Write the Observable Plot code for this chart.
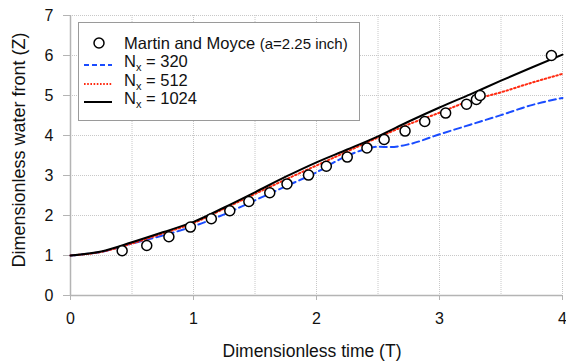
<!DOCTYPE html>
<html>
<head>
<meta charset="utf-8">
<script src="https://cdn.jsdelivr.net/npm/d3@7"></script>
<script src="https://cdn.jsdelivr.net/npm/@observablehq/plot@0.6"></script>
<style>
  html, body { margin: 0; padding: 0; background: #fff; }
  #wrap { position: relative; width: 566px; height: 363px; font-family: "Liberation Sans", Arial, sans-serif; }
  #legend { position: absolute; left: 78px; top: 22px; width: 282px; height: 99px; box-sizing: border-box;
            border: 1px solid #9a9a9a; background: #fff; font-size: 16.5px; color: #111; }
  .row { position: absolute; left: 0; height: 20px; display: flex; align-items: center; white-space: nowrap; }
  .row svg { margin-left: 5px; margin-right: 12px; }
  .small { font-size: 15px; }
</style>
</head>
<body>
<div id="wrap"></div>
<script>
// Martin and Moyce experimental data
const expT = [0.42, 0.62, 0.80, 0.975, 1.145, 1.295, 1.45, 1.62, 1.76, 1.935, 2.08, 2.25, 2.41, 2.55, 2.72, 2.88, 3.05, 3.22, 3.30, 3.33, 3.91];
const expZ = [1.12, 1.25, 1.47, 1.71, 1.92, 2.12, 2.35, 2.57, 2.79, 3.01, 3.23, 3.46, 3.69, 3.90, 4.11, 4.35, 4.56, 4.78, 4.90, 5.00, 6.00];

// Nx = 320 (blue dashed)
const t320 = [0, 0.25, 0.5, 0.75, 1.0, 1.25, 1.5, 1.75, 2.0, 2.2, 2.4, 2.5, 2.6, 2.75, 3.0, 3.25, 3.5, 3.75, 4.0];
const z320 = [1, 1.09, 1.3, 1.5, 1.73, 2.03, 2.38, 2.73, 3.08, 3.42, 3.66, 3.72, 3.71, 3.78, 4.03, 4.27, 4.51, 4.76, 4.94];

// Nx = 512 (red dotted)
const t512 = [0, 0.25, 0.5, 0.75, 1.0, 1.25, 1.5, 1.75, 2.0, 2.25, 2.5, 2.75, 3.0, 3.25, 3.5, 3.75, 4.0];
const z512 = [1, 1.09, 1.3, 1.55, 1.81, 2.17, 2.54, 2.9, 3.25, 3.6, 3.95, 4.28, 4.57, 4.87, 5.08, 5.32, 5.54];

// Nx = 1024 (black solid)
const t1024 = [0, 0.25, 0.5, 0.75, 1.0, 1.25, 1.5, 1.75, 2.0, 2.25, 2.5, 2.75, 3.0, 3.25, 3.5, 3.75, 4.0];
const z1024 = [1, 1.1, 1.33, 1.58, 1.84, 2.2, 2.58, 2.97, 3.33, 3.65, 3.98, 4.35, 4.7, 5.03, 5.37, 5.7, 6.02];

const xTicks = [0, 1, 2, 3, 4];
const xGrid = [0.5, 1, 1.5, 2, 2.5, 3, 3.5, 4];
const yTicks = [0, 1, 2, 3, 4, 5, 6, 7];
const yGrid = [1, 2, 3, 4, 5, 6, 7];

const series = [
  {t: t320, z: z320, stroke: "#1a4cff", dash: "7,4"},
  {t: t512, z: z512, stroke: "#ff2a10", dash: "1.6,2.4"},
  {t: t1024, z: z1024, stroke: "#000000", dash: null}
];
const exp = expT.map((t, i) => ({t, z: expZ[i]}));

const marks = [
  Plot.gridX(xGrid, {stroke: "#c8c8c8", strokeOpacity: 1, strokeDasharray: "1,1"}),
  Plot.gridY(yGrid, {stroke: "#c8c8c8", strokeOpacity: 1, strokeDasharray: "1,1"}),
  Plot.ruleX([0], {stroke: "#b4b4b4", strokeWidth: 1.5}),
  Plot.ruleY([0], {stroke: "#b4b4b4", strokeWidth: 1.5}),
  Plot.axisX(xTicks, {tickSize: 5, stroke: "#b4b4b4", tickPadding: 12, fontSize: 16, label: null, color: "#111", tickFormat: "d"}),
  Plot.axisY(yTicks, {tickSize: 7, stroke: "#b4b4b4", tickPadding: 10, fontSize: 16, label: null, color: "#111", tickFormat: "d"}),
];
for (const s of series) {
  const d = s.t.map((t, i) => ({t, z: s.z[i]}));
  marks.push(Plot.line(d, {x: "t", y: "z", stroke: s.stroke, strokeWidth: 2, strokeDasharray: s.dash, curve: "monotone-x"}));
}
marks.push(Plot.dot(exp, {x: "t", y: "z", r: 5, stroke: "#000", strokeWidth: 1.5, fill: "#fff"}));

const chart = Plot.plot({
  width: 566, height: 363,
  marginLeft: 70, marginRight: 4, marginTop: 15, marginBottom: 68,
  x: {domain: [0, 4], label: null},
  y: {domain: [0, 7], label: null},
  style: {fontFamily: "'Liberation Sans', Arial, sans-serif", background: "#fff", overflow: "visible"},
  marks
});
const wrap = document.getElementById("wrap");
wrap.appendChild(chart);

// axis titles
const svg = d3.select(chart);
svg.append("text").attr("x", 312).attr("y", 357).attr("text-anchor", "middle")
  .attr("font-size", 17.5).attr("fill", "#111").text("Dimensionless time (T)");
svg.append("text").attr("transform", "translate(25,150) rotate(-90)").attr("text-anchor", "middle")
  .attr("font-size", 18).attr("fill", "#111").text("Dimensionless water front (Z)");

// legend
const legend = document.createElement("div");
legend.id = "legend";
const rows = [
  {sym: '<svg width="28" height="14"><circle cx="15" cy="7" r="5" fill="#fff" stroke="#000" stroke-width="1.5"/></svg>',
   text: 'Martin and Moyce <span class="small">(a=2.25 inch)</span>'},
  {sym: `<svg width="28" height="14"><line x1="0" y1="9" x2="28" y2="9" stroke="${series[0].stroke}" stroke-width="2" stroke-dasharray="5,3"/></svg>`,
   text: 'N<sub style="font-size:11px">x</sub> = 320'},
  {sym: `<svg width="28" height="14"><line x1="0" y1="9" x2="28" y2="9" stroke="${series[1].stroke}" stroke-width="2" stroke-dasharray="1.6,1.6"/></svg>`,
   text: 'N<sub style="font-size:11px">x</sub> = 512'},
  {sym: '<svg width="28" height="14"><line x1="0" y1="9" x2="28" y2="9" stroke="#000" stroke-width="2"/></svg>',
   text: 'N<sub style="font-size:11px">x</sub> = 1024'}
];
const tops = [10, 30, 49, 67];
rows.forEach((r, i) => {
  const el = document.createElement("div");
  el.className = "row";
  el.style.top = tops[i] + "px";
  el.innerHTML = r.sym + "<span>" + r.text + "</span>";
  legend.appendChild(el);
});
wrap.appendChild(legend);
</script>
</body>
</html>
